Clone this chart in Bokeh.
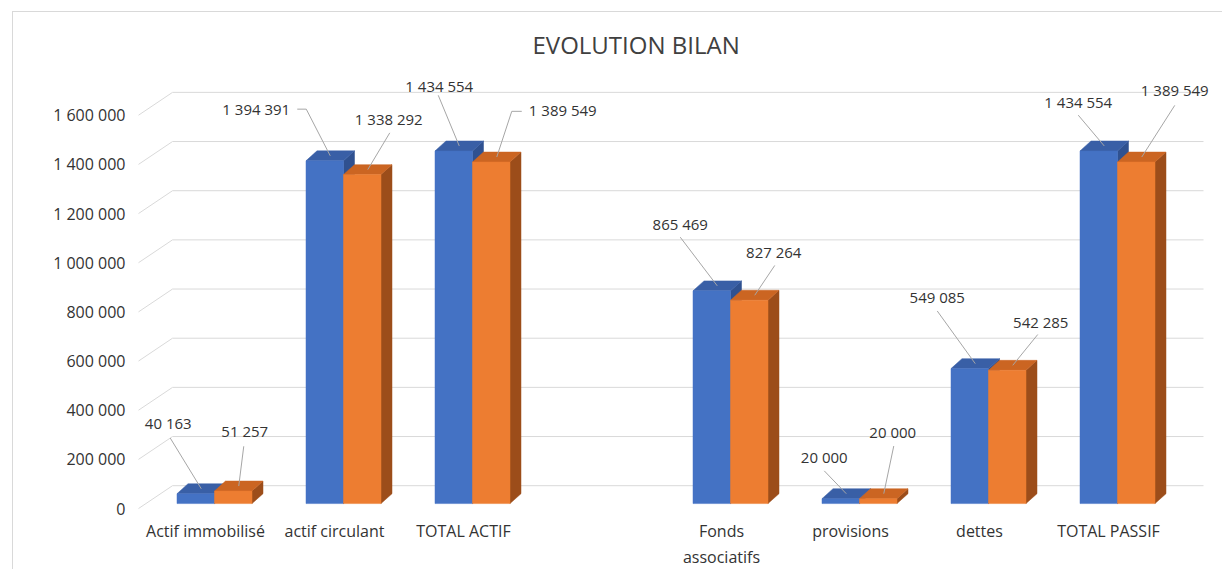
from bokeh.plotting import figure
from bokeh.models import FixedTicker, Range1d
from bokeh.embed import file_html
from bokeh.resources import INLINE

# ---------------- data ----------------
categories = ["Actif immobilisé", "actif circulant", "TOTAL ACTIF", "",
              "Fonds\nassociatifs", "provisions", "dettes", "TOTAL PASSIF"]
serie_1 = [40163, 1394391, 1434554, None, 865469, 20000, 549085, 1434554]
serie_2 = [51257, 1338292, 1389549, None, 827264, 20000, 542285, 1389549]
y_ticks = [0, 200000, 400000, 600000, 800000, 1000000, 1200000, 1400000, 1600000]
y_tick_labels = ["0", "200 000", "400 000", "600 000", "800 000",
                 "1 000 000", "1 200 000", "1 400 000", "1 600 000"]
title_text = "EVOLUTION BILAN"

# ---------------- layout / style ----------------
UX = 129.0          # px per category
UY = 0.0002475      # px per value unit
FONT = "Open Sans"
TXT = "#333333"
BLUE = ("#4472C4", "#395FA6", "#2F5190")     # front, top, side
ORANGE = ("#ED7D31", "#CB6522", "#9C4D1A")

# label offsets (px, screen: +x right, +y down) relative to top-face centre
lab_off_1 = [(-33, -66), (-74, -47), (-20, -60), None, (-37, -62), (-22, -37), (-38, -67), (-26, -44)]
lead_1 = [[(-31, -51)], [(-33, -47), (-24, -47)], [(-21, -51)], None, [(-37, -49)],
          [(-22, -23)], [(-38, -53)], [(-26, -31)]]
lab_off_2 = [(6, -55), (21, -51), (66, -47), None, (19, -44), (9, -62), (28, -44), (33, -67)]
lead_2 = [[(5, -40)], [(22, -37)], [(25, -46), (15, -46)], None, [(20, -30)],
          [(10, -48)], [(25, -31)], [(33, -52)]]

# page geometry
OX, OY = 13, 9
W, H = 1210, 558
frame_l, frame_r, frame_t, frame_b = 131, 1220, 70, 515
cat0_px, zero_px = 205, 508
title_left_px = 532

x_start = (frame_l - cat0_px) / UX
x_end = (frame_r - cat0_px) / UX
y_start = -(frame_b - zero_px) / UY
y_end = (zero_px - frame_t) / UY

p = figure(width=W, height=H, output_backend="svg", toolbar_location=None,
           x_range=Range1d(x_start, x_end), y_range=Range1d(y_start, y_end),
           min_border_left=frame_l - OX, min_border_right=OX + W - frame_r,
           min_border_top=frame_t - OY, min_border_bottom=OY + H - frame_b,
           tools="")
p.margin = (11, 0, 0, 12)
p.styles = {"border-top": "1px solid #d9d9d9", "border-left": "1px solid #d9d9d9"}
p.outline_line_color = None
p.background_fill_color = "white"
p.border_fill_color = "white"
p.xgrid.visible = False
p.ygrid.visible = False

p.title.text = title_text
p.title.align = "left"
p.title.offset = title_left_px - frame_l
p.title.text_font = FONT
p.title.text_font_size = "24px"
p.title.text_font_style = "normal"
p.title.text_color = "#404040"
p.title.standoff = 25

# axes
p.yaxis.ticker = FixedTicker(ticks=y_ticks)
p.yaxis.major_label_overrides = {t: l for t, l in zip(y_ticks, y_tick_labels)}
p.xaxis.ticker = FixedTicker(ticks=list(range(len(categories))))
p.xaxis.major_label_overrides = {i: c for i, c in enumerate(categories)}
for ax in (p.xaxis[0], p.yaxis[0]):
    ax.axis_line_color = None
    ax.major_tick_line_color = None
    ax.minor_tick_line_color = None
    ax.major_tick_in = 0
    ax.major_tick_out = 0
    ax.major_label_text_font = FONT
    ax.major_label_text_font_size = "16px"
    ax.major_label_text_color = TXT
p.yaxis.major_label_standoff = 6
p.xaxis.major_label_standoff = 4

# back-wall gridlines (3D floor offset)
GX0 = (138 - cat0_px) / UX
GDX = 34 / UX
GDY = 23 / UY
GX1 = (1203 - cat0_px) / UX
gxs = [[GX0, GX0 + GDX, GX1] for t in y_ticks]
gys = [[t, t + GDY, t + GDY] for t in y_ticks]
p.multi_line(gxs, gys, line_color="#d9d9d9", line_width=1)

# bars
BW = 37.5 / UX
BOX = 9 / UX
BOY = 5 / UY
DX = 11 / UX
DY = 10 / UY


def draw_series(vals, s, cols):
    fx0, fx1, fy0, fy1 = [], [], [], []
    txs, tys, sxs, sys_ = [], [], [], []
    for i, v in enumerate(vals):
        if v is None:
            continue
        x0 = i + BOX + (s - 1) * BW
        x1 = x0 + BW
        y0 = BOY
        y1 = v + BOY
        fx0.append(x0); fx1.append(x1); fy0.append(y0); fy1.append(y1)
        txs.append([x0, x1, x1 + DX, x0 + DX]); tys.append([y1, y1, y1 + DY, y1 + DY])
        sxs.append([x1, x1 + DX, x1 + DX, x1]); sys_.append([y0, y0 + DY, y1 + DY, y1])
    p.patches(sxs, sys_, fill_color=cols[2], line_color=cols[2], line_width=0.5)
    p.patches(txs, tys, fill_color=cols[1], line_color=cols[1], line_width=0.5)
    p.quad(left=fx0, right=fx1, bottom=fy0, top=fy1, fill_color=cols[0],
           line_color=cols[0], line_width=0.5)


draw_series(serie_1, 0, BLUE)
draw_series(serie_2, 1, ORANGE)


def labels(vals, s, offs, leads):
    lx, ly, lt, mxs, mys = [], [], [], [], []
    for i, v in enumerate(vals):
        if v is None:
            continue
        ax = i + BOX + (s - 1) * BW + BW / 2 + DX / 2
        ay = v + BOY + DY / 2
        dx, dy = offs[i]
        lx.append(ax + dx / UX); ly.append(ay - dy / UY)
        lt.append(f"{v:,}".replace(",", " "))
        xs = [ax + px / UX for px, py in leads[i]] + [ax]
        ys = [ay - py / UY for px, py in leads[i]] + [ay]
        mxs.append(xs); mys.append(ys)
    p.multi_line(mxs, mys, line_color="#a6a6a6", line_width=1)
    p.text(lx, ly, text=lt, text_align="center", text_baseline="middle",
           text_font={"value": FONT}, text_font_size="15px", text_color=TXT)


labels(serie_1, 0, lab_off_1, lead_1)
labels(serie_2, 1, lab_off_2, lead_2)

open("out.html", "w").write(file_html(p, INLINE))
